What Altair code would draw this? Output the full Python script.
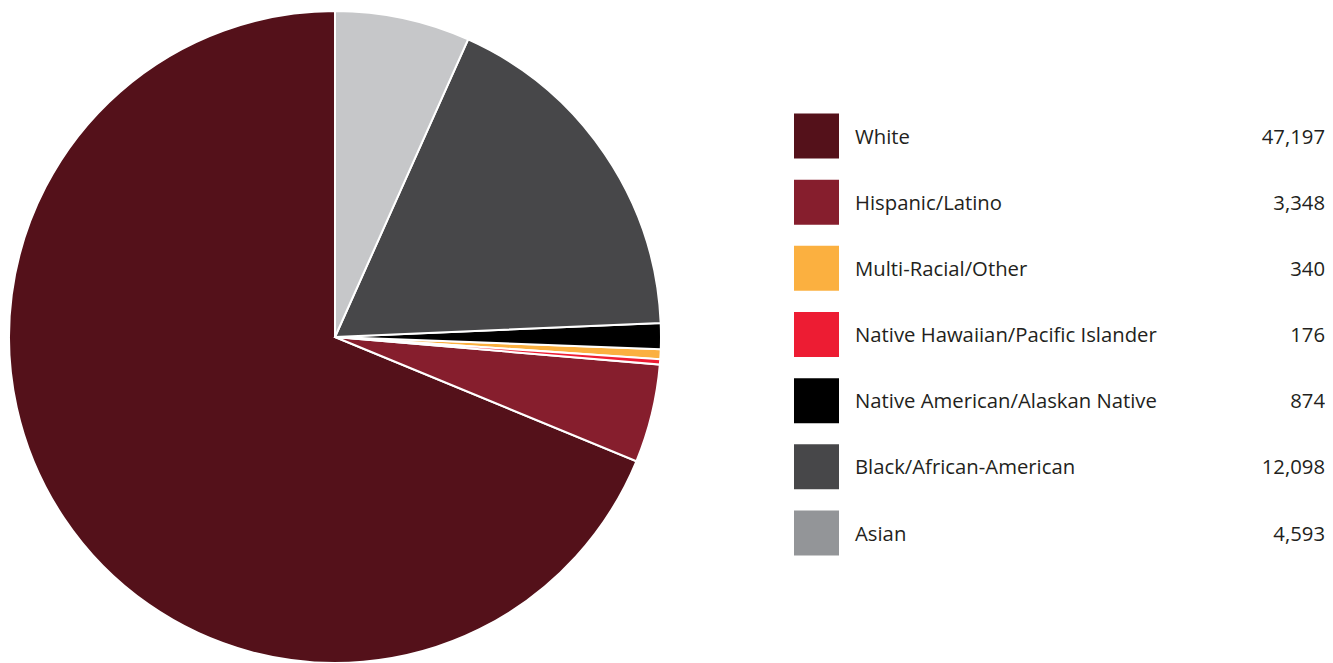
import altair as alt
import pandas as pd

categories = ["White", "Hispanic/Latino", "Multi-Racial/Other",
              "Native Hawaiian/Pacific Islander", "Native American/Alaskan Native",
              "Black/African-American", "Asian"]
values = [47197, 3348, 340, 176, 874, 12098, 4593]
pie_order = [6, 5, 3, 4, 2, 1, 0]
pie_colors = ["#54111a", "#861e2d", "#fbb040", "#ed1c33", "#000000", "#474749", "#c6c7c9"]
swatch_colors = ["#54111a", "#861e2d", "#fbb040", "#ed1c33", "#000000", "#474749", "#939598"]
rows = list(range(len(categories)))

df = pd.DataFrame({
    "category": categories,
    "value": values,
    "pie_order": pie_order,
    "pie_color": pie_colors,
    "swatch": swatch_colors,
    "row": rows,
    "label": [f"{v:,}" for v in values],
})

FONT = "Open Sans"
FS = 20.3

pie = alt.Chart(df).mark_arc(stroke="white", strokeWidth=2).encode(
    theta=alt.Theta("value:Q", stack=True),
    order=alt.Order("pie_order:Q"),
    color=alt.Color("pie_color:N", scale=None),
    x=alt.value(327),
    y=alt.value(329),
    radius=alt.value(326),
)

yscale = alt.Scale(domain=[0, 6], range=[128, 525])

swatches = alt.Chart(df).mark_square(size=45 * 45, opacity=1).encode(
    x=alt.value(808.5),
    y=alt.Y("row:Q", scale=yscale, axis=None),
    color=alt.Color("swatch:N", scale=None),
)

names = alt.Chart(df).mark_text(
    align="left", baseline="middle", font=FONT, fontSize=FS, color="#231f20", dy=1.5
).encode(
    x=alt.value(847),
    y=alt.Y("row:Q", scale=yscale, axis=None),
    text="category:N",
)

nums = alt.Chart(df).mark_text(
    align="right", baseline="middle", font=FONT, fontSize=FS, color="#231f20", dy=1.5
).encode(
    x=alt.value(1317),
    y=alt.Y("row:Q", scale=yscale, axis=None),
    text="label:N",
)

chart = alt.layer(pie, swatches, names, nums).properties(
    width=1317, height=655,
    autosize=alt.AutoSizeParams(type="none"),
    padding=0,
).configure_view(stroke=None)

chart.save("out.html", embed_options={"renderer": "svg", "actions": False})
